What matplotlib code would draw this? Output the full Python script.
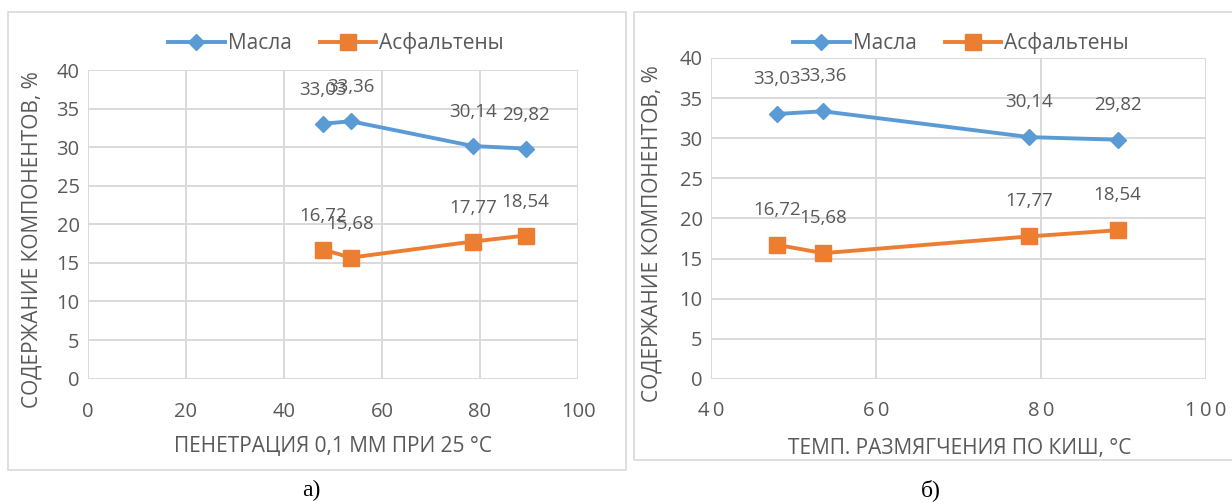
import matplotlib
matplotlib.use("Agg")
import matplotlib.pyplot as plt
from matplotlib.patches import Rectangle

# Данные
x_pen = [48, 53.6, 78.6, 89.3]          # пенетрация 0,1 мм при 25 °С
x_kish = [48, 53.6, 78.6, 89.3]         # темп. размягчения по КиШ, °С
masla = [33.03, 33.36, 30.14, 29.82]
asfalteny = [16.72, 15.68, 17.77, 18.54]
series_names = ["Масла", "Асфальтены"]
xticks_a = [0, 20, 40, 60, 80, 100]
xticks_b = [40, 60, 80, 100]
yticks = [0, 5, 10, 15, 20, 25, 30, 35, 40]

plt.rcParams['font.family'] = ['Open Sans', 'DejaVu Sans']

BLUE = '#5B9BD5'
ORANGE = '#ED7D31'
GRID = '#D9D9D9'
TXT = '#595959'

W, H = 1232, 503
fig = plt.figure(figsize=(W / 100, H / 100), dpi=100)


def px_axes(x0, x1, ytop, ybot):
    return fig.add_axes([x0 / W, (H - ybot) / H, (x1 - x0) / W, (ybot - ytop) / H])


def fmt(v):
    return f"{v:.2f}".replace('.', ',')


def draw(ax, x, xticks, xlabels, xlabel, label_off, tick_pad):
    ax.plot(x, masla, color=BLUE, lw=2.8, marker='D', ms=8, label=series_names[0], zorder=3)
    ax.plot(x, asfalteny, color=ORANGE, lw=2.8, marker='s', ms=11, label=series_names[1], zorder=3)
    for xi, yi in zip(x, masla):
        ax.annotate(fmt(yi), (xi, yi), xytext=(0, label_off), textcoords='offset pixels',
                    ha='center', va='center', fontsize=13.5, color=TXT)
    for xi, yi in zip(x, asfalteny):
        ax.annotate(fmt(yi), (xi, yi), xytext=(0, label_off), textcoords='offset pixels',
                    ha='center', va='center', fontsize=13.5, color=TXT)
    ax.set_xlim(xticks[0], xticks[-1])
    ax.set_ylim(0, 40)
    ax.set_xticks(xticks)
    ax.set_xticklabels(xlabels)
    ax.set_yticks(yticks)
    ax.grid(True, color=GRID, lw=1.4)
    ax.set_axisbelow(True)
    for s in ax.spines.values():
        s.set_visible(False)
    ax.tick_params(axis='both', length=0, labelsize=14.5, colors=TXT)
    ax.tick_params(axis='x', pad=tick_pad)
    ax.tick_params(axis='y', pad=6)
    ax.set_xlabel(xlabel, fontsize=15, color=TXT)


# рамки панелей
fig.add_artist(Rectangle((8 / W, (H - 470) / H), 618 / W, 458 / H, transform=fig.transFigure,
                         fill=False, ec=GRID, lw=1.2))
fig.add_artist(Rectangle((634 / W, (H - 460) / H), 620 / W, 448 / H, transform=fig.transFigure,
                         fill=False, ec=GRID, lw=1.2))

# а)
ax1 = px_axes(88, 578, 70, 378.6)
draw(ax1, x_pen, xticks_a, [str(t) for t in xticks_a], "ПЕНЕТРАЦИЯ 0,1 ММ ПРИ 25 °С", 34, 17)
ax1.xaxis.set_label_coords(333 / W, (H - 436) / H, transform=fig.transFigure)
ax1.set_ylabel("СОДЕРЖАНИЕ КОМПОНЕНТОВ, %", fontsize=15, color=TXT)
ax1.yaxis.set_label_coords(43 / W, (H - 240) / H, transform=fig.transFigure)
ax1.legend(loc='center', bbox_to_anchor=(336 / W, (H - 43) / H), bbox_transform=fig.transFigure,
           ncol=2, frameon=False, fontsize=15, handlelength=2.7, handletextpad=0.15,
           columnspacing=1.35, labelcolor=TXT)

# б)
ax2 = px_axes(711, 1206, 58, 379)
draw(ax2, x_kish, xticks_b, ['\u2009'.join(str(t)) for t in xticks_b],
     "ТЕМП. РАЗМЯГЧЕНИЯ ПО КИШ, °С", 35, 16)
ax2.xaxis.set_label_coords(960 / W, (H - 438) / H, transform=fig.transFigure)
ax2.set_ylabel("СОДЕРЖАНИЕ КОМПОНЕНТОВ, %", fontsize=15, color=TXT)
ax2.yaxis.set_label_coords(662 / W, (H - 234) / H, transform=fig.transFigure)
ax2.legend(loc='center', bbox_to_anchor=(961 / W, (H - 43) / H), bbox_transform=fig.transFigure,
           ncol=2, frameon=False, fontsize=15, handlelength=2.7, handletextpad=0.15,
           columnspacing=1.35, labelcolor=TXT)

# подписи
fig.text(311 / W, (H - 490) / H, "а)", fontsize=17, family='Liberation Serif', ha='center', va='center')
fig.text(931 / W, (H - 490) / H, "б)", fontsize=17, family='Liberation Serif', ha='center', va='center')

fig.savefig("out.png", dpi=100)
